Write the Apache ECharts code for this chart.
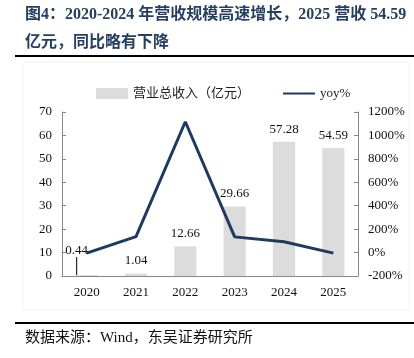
<!DOCTYPE html>
<html><head><meta charset="utf-8">
<script src="https://cdn.jsdelivr.net/npm/echarts@6/dist/echarts.min.js"></script>
<style>html,body{margin:0;padding:0;background:#fff}#c{width:414px;height:358px}</style>
</head><body><div id="c"></div>
<script>
const years = ['2020','2021','2022','2023','2024','2025'];
const revenue = [0.44, 1.04, 12.66, 29.66, 57.28, 54.59];
const yoy = [-5, 136, 1117, 134, 93, -5];
const leftTicks = {min: 0, max: 70, interval: 10};
const rightTicks = {min: -200, max: 1200, interval: 200};
const titleLine1 = '图4：2020-2024 年营收规模高速增长，2025 营收 54.59';
const titleLine2 = '亿元，同比略有下降';
const source = '数据来源：Wind，东吴证券研究所';

const FONT = '"Liberation Serif","Times New Roman","Noto Sans CJK SC",serif';
const chart = echarts.init(document.getElementById('c'));
const barData = revenue.map((v, i) => i === 0 ? {
  value: v,
  labelLine: {show: true, lineStyle: {color: '#000', width: 1}}
} : v);
chart.setOption({
  animation: false,
  textStyle: {fontFamily: FONT},
  graphic: [
    {type: 'rect', shape: {x: 23, y: 62, width: 386, height: 248}, style: {fill: 'none', stroke: '#f2f2f2', lineWidth: 1}},
    {type: 'text', left: 25, top: 7, style: {text: titleLine1, font: 'bold 16px ' + FONT, fill: '#243f60'}},
    {type: 'text', left: 25, top: 35, style: {text: titleLine2, font: 'bold 16px ' + FONT, fill: '#243f60'}},
    {type: 'rect', shape: {x: 15, y: 55, width: 399, height: 2}, style: {fill: '#000'}},
    {type: 'rect', shape: {x: 15, y: 322, width: 399, height: 2}, style: {fill: '#000'}},
    {type: 'text', left: 25, top: 331, style: {text: source, font: '15px ' + FONT, fill: '#111'}}
  ],
  legend: {
    top: 82, left: 91, itemGap: 32,
    textStyle: {fontFamily: FONT, fontSize: 13, color: '#222'},
    data: [
      {name: '营业总收入（亿元）', icon: 'rect', itemStyle: {color: '#dcdcdc'}},
      {name: 'yoy%', itemStyle: {color: 'rgba(0,0,0,0)', borderWidth: 0}}
    ],
    itemWidth: 32, itemHeight: 11
  },
  grid: {left: 62, right: 56, top: 112, bottom: 82},
  xAxis: {
    type: 'category', data: years,
    axisLine: {lineStyle: {color: '#888'}},
    axisTick: {inside: true, length: 4, lineStyle: {color: '#888'}},
    axisLabel: {color: '#111', fontSize: 13, fontFamily: FONT, margin: 10}
  },
  yAxis: [
    {type: 'value', min: leftTicks.min, max: leftTicks.max, interval: leftTicks.interval,
     splitLine: {show: false},
     axisLine: {show: true, lineStyle: {color: '#888'}},
     axisTick: {show: true, inside: true, length: 4, lineStyle: {color: '#888'}},
     axisLabel: {color: '#111', fontSize: 13, fontFamily: FONT, margin: 10}},
    {type: 'value', min: rightTicks.min, max: rightTicks.max, interval: rightTicks.interval,
     splitLine: {show: false},
     axisLine: {show: true, lineStyle: {color: '#888'}},
     axisTick: {show: true, inside: true, length: 4, lineStyle: {color: '#888'}},
     axisLabel: {color: '#111', fontSize: 13, fontFamily: FONT, margin: 10, formatter: v => v + '%'}}
  ],
  series: [
    {name: '营业总收入（亿元）', type: 'bar', data: barData, barWidth: '45%',
     itemStyle: {color: '#dcdcdc'},
     label: {show: true, position: 'top', color: '#111', fontSize: 13, fontFamily: FONT, distance: 6},
     labelLayout: p => p.dataIndex === 0 ? {dx: -10, dy: -12} : {}},
    {name: 'yoy%', type: 'line', yAxisIndex: 1, data: yoy, symbol: 'none',
     lineStyle: {color: '#1f3a5f', width: 3}, itemStyle: {color: '#1f3a5f'}, z: 3}
  ]
});
</script></body></html>
